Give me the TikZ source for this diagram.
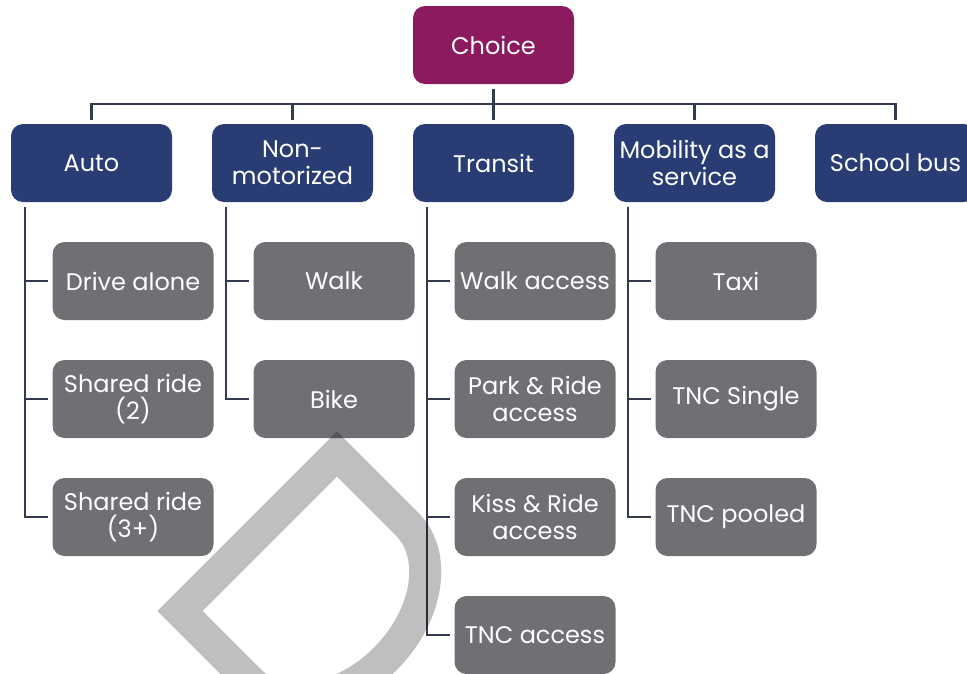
\documentclass[tikz,border=0pt]{standalone}
\usepackage{fontspec}
\setmainfont{Poppins}
\usetikzlibrary{positioning}
\definecolor{choicepurple}{RGB}{139,26,94}
\definecolor{catblue}{RGB}{41,60,116}
\definecolor{modegray}{RGB}{112,111,116}
\definecolor{linkgray}{RGB}{51,58,77}

\begin{document}
\begin{tikzpicture}[x=1pt,y=1pt,node distance=201pt,on grid,
        basebox/.style={rectangle,rounded corners=12pt,minimum width=161pt,minimum height=78pt,
            inner sep=1pt,align=center,text=white,font=\fontsize{24}{27}\selectfont},
        rootbox/.style={basebox,fill=choicepurple},
        catbox/.style={basebox,fill=catblue},
        modebox/.style={basebox,fill=modegray},
        link/.style={draw=linkgray,line width=2.5pt,shorten <=5pt,shorten >=4pt}]
        \useasboundingbox (0,0) rectangle (967,-673);
        \clip (0,0) rectangle (967,-673);
        % top
        \node[rootbox] (choice) at (493.5,-45) {Choice};
        % categories
        \node[catbox] (transit) at (493.5,-163) {Transit};
        \node[catbox, left=of transit] (nonmot) {Non-\\motorized};
        \node[catbox, left=of nonmot] (auto) {Auto};
        \node[catbox, right=of transit] (maas) {Mobility as a\\service};
        \node[catbox, right=of maas] (school) {School bus};
        % modes
        \node[modebox, below right=118pt and 41.5pt of auto] (drive) {Drive alone};
        \node[modebox, below=118pt of drive] (shared2) {Shared ride\\(2)};
        \node[modebox, below=118pt of shared2] (shared3) {Shared ride\\(3+)};
        \node[modebox, below right=118pt and 41.5pt of nonmot] (walk) {Walk};
        \node[modebox, below=118pt of walk] (bike) {Bike};
        \node[modebox, below right=118pt and 41.5pt of transit] (walkacc) {Walk access};
        \node[modebox, below=118pt of walkacc] (parkride) {Park \& Ride\\access};
        \node[modebox, below=118pt of parkride] (kissride) {Kiss \& Ride\\access};
        \node[modebox, below=118pt of kissride] (tncacc) {TNC access};
        \node[modebox, below right=118pt and 41.5pt of maas] (taxi) {Taxi};
        \node[modebox, below=118pt of taxi] (tncsingle) {TNC Single};
        \node[modebox, below=118pt of tncsingle] (tncpooled) {TNC pooled};
        % links
        \foreach \c in {auto,nonmot,transit,maas,school}
            \draw[link] (choice.south) -- ++(0,-20) -| (\c.north);
        \foreach \p/\c in {auto/drive,auto/shared2,auto/shared3,nonmot/walk,nonmot/bike,
                transit/walkacc,transit/parkride,transit/kissride,transit/tncacc,
                maas/taxi,maas/tncsingle,maas/tncpooled}
            \draw[link] ([xshift=14pt]\p.south west) |- (\c.west);
        % watermark
        \begin{scope}[shift={(180,-611)},rotate=-45]
            \draw[line width=32pt,black,opacity=0.25]
                (0,0) -- (0,222) -- (99,222)
                arc[start angle=90,end angle=-90,x radius=80,y radius=111] -- cycle;
        \end{scope}
\end{tikzpicture}
\end{document}
